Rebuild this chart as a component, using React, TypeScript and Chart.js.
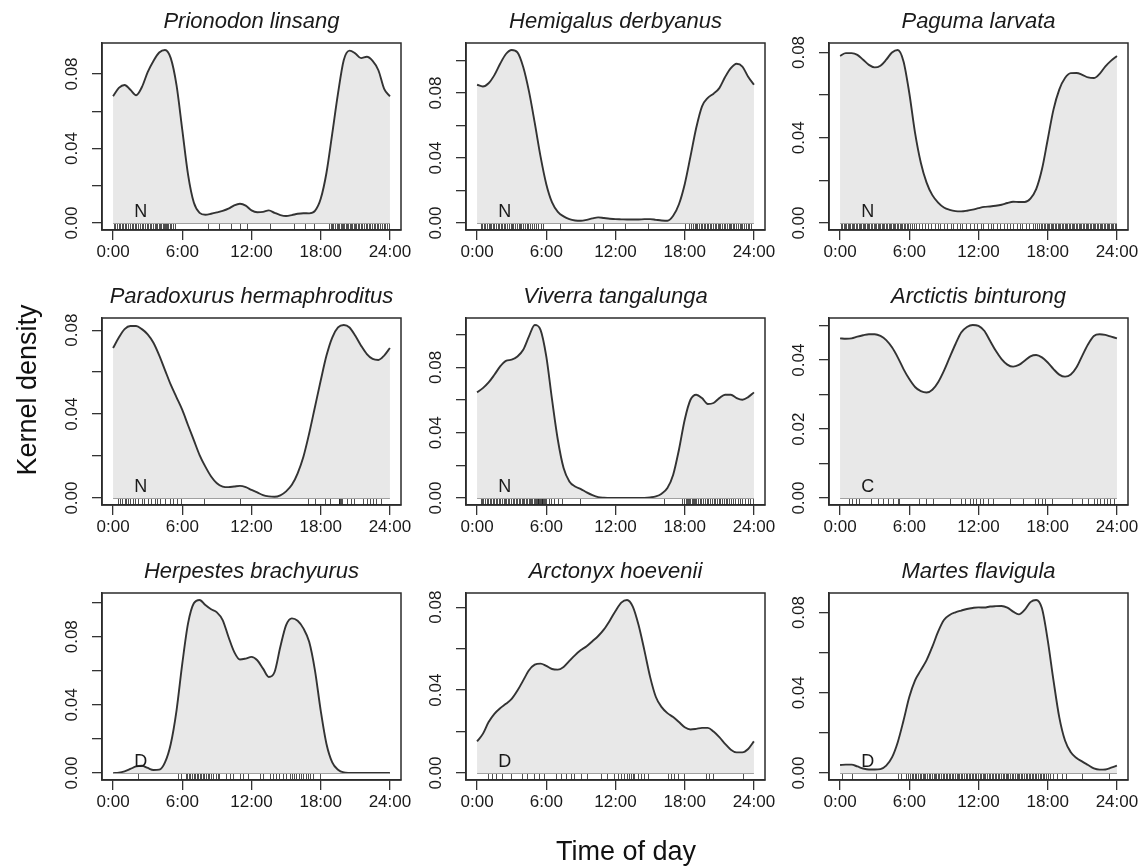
import React, { useEffect, useRef } from "react";
import { Chart, registerables } from "chart.js";

Chart.register(...registerables);

// ---------- data ----------
const HOURS = [
  0, 0.5, 1, 1.5, 2, 2.5, 3, 3.5, 4, 4.5, 5, 5.5, 6, 6.5, 7, 7.5, 8, 8.5, 9, 9.5,
  10, 10.5, 11, 11.5, 12, 12.5, 13, 13.5, 14, 14.5, 15, 15.5, 16, 16.5, 17, 17.5,
  18, 18.5, 19, 19.5, 20, 20.5, 21, 21.5, 22, 22.5, 23, 23.5, 24,
];

const X_TICK_HOURS = [0, 6, 12, 18, 24];

const TITLES = [
  "Prionodon linsang",
  "Hemigalus derbyanus",
  "Paguma larvata",
  "Paradoxurus hermaphroditus",
  "Viverra tangalunga",
  "Arctictis binturong",
  "Herpestes brachyurus",
  "Arctonyx hoevenii",
  "Martes flavigula",
];

const LETTERS = ["N", "N", "N", "N", "N", "C", "D", "D", "D"];
const LETTER_HOUR = 2.4;

const Y_STEPS = [0.02, 0.02, 0.02, 0.02, 0.02, 0.01, 0.02, 0.02, 0.02];
const Y_LABEL_STEPS = [0.04, 0.04, 0.04, 0.04, 0.04, 0.02, 0.04, 0.04, 0.04];

const PRIONODON = [
  0.068, 0.0725, 0.0741, 0.0715, 0.0686, 0.073, 0.081, 0.087, 0.0915, 0.0929,
  0.0885, 0.074, 0.05, 0.026, 0.011, 0.0055, 0.0045, 0.005, 0.0057, 0.0065,
  0.0077, 0.0095, 0.0104, 0.0094, 0.0068, 0.0058, 0.006, 0.0068, 0.0055, 0.0043,
  0.0038, 0.0043, 0.005, 0.0053, 0.0052, 0.0065, 0.013, 0.027, 0.048, 0.0696,
  0.0875, 0.0925, 0.091, 0.0885, 0.0892, 0.087, 0.082, 0.072, 0.068,
];
const HEMIGALUS = [
  0.0851, 0.084, 0.086, 0.091, 0.098, 0.104, 0.1065, 0.105, 0.096, 0.081,
  0.0616, 0.041, 0.0239, 0.0127, 0.0069, 0.0041, 0.0024, 0.0016, 0.0014, 0.002,
  0.0029, 0.0035, 0.0031, 0.0027, 0.0024, 0.0023, 0.0022, 0.0022, 0.0022, 0.0024,
  0.0024, 0.002, 0.0016, 0.0014, 0.0045, 0.0116, 0.0239, 0.041, 0.0586, 0.0718,
  0.077, 0.0796, 0.083, 0.0898, 0.0953, 0.098, 0.0963, 0.09, 0.0851,
];
const PAGUMA = [
  0.0784, 0.0797, 0.0797, 0.0789, 0.0766, 0.0742, 0.073, 0.0738, 0.0766, 0.08,
  0.0812, 0.0758, 0.061, 0.0423, 0.0283, 0.019, 0.0131, 0.0096, 0.0073, 0.0062,
  0.0056, 0.0055, 0.0058, 0.0063, 0.007, 0.0076, 0.0078, 0.0081, 0.0086, 0.0094,
  0.01, 0.0099, 0.0099, 0.0115, 0.0159, 0.0252, 0.0392, 0.0532, 0.0626, 0.068,
  0.0703, 0.0704, 0.0695, 0.0683, 0.068, 0.07, 0.0735, 0.0762, 0.0784,
];
const PARADOXURUS = [
  0.0715, 0.0765, 0.0805, 0.082, 0.082, 0.0805, 0.078, 0.074, 0.068, 0.061,
  0.054, 0.048, 0.042, 0.0347, 0.0276, 0.0205, 0.015, 0.0103, 0.0071, 0.0055,
  0.0052, 0.0055, 0.0058, 0.0052, 0.0039, 0.0027, 0.0014, 0.0008, 0.0006, 0.0013,
  0.0032, 0.0063, 0.0118, 0.0197, 0.0308, 0.0434, 0.056, 0.0679, 0.0765, 0.0813,
  0.0825, 0.0813, 0.0773, 0.0726, 0.0686, 0.0663, 0.0658, 0.0679, 0.0715,
];
const VIVERRA = [
  0.0647, 0.0673, 0.0708, 0.0755, 0.0806, 0.084, 0.0847, 0.0867, 0.0908, 0.099,
  0.106, 0.103, 0.0867, 0.0602, 0.0357, 0.0184, 0.0102, 0.0071, 0.0055, 0.0035,
  0.0018, 0.0006, 0.0002, 0, 0, 0, 0, 0, 0, 0.0001,
  0.0004, 0.001, 0.0027, 0.0061, 0.0143, 0.0296, 0.048, 0.0602, 0.0633, 0.0612,
  0.0576, 0.0582, 0.0612, 0.0633, 0.0633, 0.0612, 0.0602, 0.0618, 0.0647,
];
const ARCTICTIS = [
  0.0463, 0.0462, 0.0463, 0.0468, 0.0472, 0.0475, 0.0475, 0.047, 0.0458, 0.0437,
  0.0408, 0.0374, 0.0345, 0.0322, 0.031, 0.0306, 0.0314, 0.0336, 0.0369, 0.0408,
  0.0446, 0.048, 0.0496, 0.0502, 0.0499, 0.0485, 0.0456, 0.0427, 0.0403, 0.0387,
  0.0381, 0.0386, 0.0398, 0.0411, 0.0415, 0.0408, 0.0393, 0.0374, 0.0358, 0.0352,
  0.0358, 0.0379, 0.0413, 0.0446, 0.047, 0.0475, 0.0473, 0.0468, 0.0463,
];
const HERPESTES = [
  0, 0.0002, 0.001, 0.0024, 0.0039, 0.0043, 0.003, 0.0018, 0.002, 0.0063,
  0.0171, 0.0367, 0.0642, 0.0878, 0.0996, 0.1016, 0.0986, 0.0961, 0.0943, 0.0898,
  0.08, 0.0711, 0.0666, 0.0672, 0.0682, 0.0662, 0.0613, 0.0564, 0.0593, 0.0741,
  0.0868, 0.0908, 0.0894, 0.0849, 0.077, 0.0603, 0.0367, 0.0171, 0.0063, 0.002,
  0.0004, 0.0001, 0, 0, 0, 0, 0, 0, 0,
];
const ARCTONYX = [
  0.0153, 0.0189, 0.0246, 0.0286, 0.0313, 0.0334, 0.0358, 0.0398, 0.0447, 0.0496,
  0.0523, 0.0528, 0.0517, 0.0502, 0.0499, 0.0512, 0.0541, 0.0569, 0.0593, 0.0612,
  0.0636, 0.0661, 0.0693, 0.0735, 0.0782, 0.0822, 0.0835, 0.0803, 0.0714, 0.0593,
  0.0464, 0.0367, 0.0318, 0.0289, 0.027, 0.0246, 0.0221, 0.021, 0.0213, 0.0218,
  0.0218, 0.02, 0.0173, 0.0141, 0.0113, 0.01, 0.01, 0.0116, 0.0153,
];
const MARTES = [
  0.004, 0.0042, 0.0042, 0.0033, 0.0023, 0.0018, 0.0018, 0.002, 0.0037, 0.0078,
  0.0154, 0.0262, 0.0379, 0.0462, 0.0513, 0.0563, 0.063, 0.0705, 0.0763, 0.0788,
  0.0801, 0.081, 0.0818, 0.0823, 0.0826, 0.0825, 0.083, 0.0832, 0.0833, 0.0825,
  0.0805, 0.0791, 0.0813, 0.0852, 0.0863, 0.0821, 0.0663, 0.0462, 0.0279, 0.0162,
  0.0104, 0.0075, 0.0057, 0.004, 0.0023, 0.0017, 0.0018, 0.0027, 0.0037,
];

// rug: observation times (hours)
const RUG_PRIONODON = [
  0.1, 0.2, 0.35, 0.5, 0.6, 0.75, 0.85, 1.0, 1.1, 1.3, 1.45, 1.6, 1.7, 1.9, 2.0,
  2.2, 2.35, 2.5, 2.6, 2.8, 2.9, 3.05, 3.2, 3.3, 3.45, 3.6, 3.7, 3.8, 3.95, 4.05,
  4.15, 4.3, 4.4, 4.5, 4.6, 4.7, 4.8, 4.9, 5.05, 5.2, 5.4,
  8.2, 9.2, 10.2, 11.0, 11.6, 13.6, 15.7, 16.6, 17.4,
  18.7, 18.85, 19.0, 19.1, 19.25, 19.4, 19.5, 19.6, 19.75, 19.85, 19.95, 20.05,
  20.15, 20.3, 20.4, 20.5, 20.6, 20.7, 20.85, 20.95, 21.1, 21.2, 21.35, 21.5,
  21.6, 21.75, 21.9, 22.0, 22.15, 22.3, 22.45, 22.6, 22.7, 22.85, 23.0, 23.15,
  23.3, 23.45, 23.6, 23.75, 23.9,
];
const RUG_HEMIGALUS = [
  0.3, 0.45, 0.6, 0.7, 0.85, 1.0, 1.1, 1.25, 1.4, 1.5, 1.65, 1.8, 1.9, 2.05, 2.2,
  2.3, 2.45, 2.6, 2.75, 2.9, 3.0, 3.15, 3.3, 3.45, 3.6, 3.7, 3.85, 4.0, 4.15, 4.3,
  4.45, 4.6, 4.75, 4.9, 5.1, 5.3, 5.5, 5.7,
  7.2, 10.1, 10.95, 12.85, 14.8, 18.0,
  18.4, 18.55, 18.7, 18.85, 19.0, 19.1, 19.25, 19.4, 19.5, 19.65, 19.8, 19.9,
  20.05, 20.2, 20.3, 20.45, 20.6, 20.7, 20.85, 21.0, 21.1, 21.25, 21.4, 21.5,
  21.65, 21.8, 21.9, 22.05, 22.2, 22.3, 22.45, 22.6, 22.75, 22.9, 23.0, 23.15,
  23.3, 23.45, 23.6, 23.75,
];
const RUG_PAGUMA = [
  0.05, 0.15, 0.3, 0.4, 0.5, 0.65, 0.75, 0.85, 1.0, 1.1, 1.2, 1.35, 1.45, 1.6,
  1.7, 1.8, 1.95, 2.05, 2.2, 2.3, 2.4, 2.55, 2.65, 2.8, 2.9, 3.0, 3.15, 3.25, 3.4,
  3.5, 3.6, 3.75, 3.85, 4.0, 4.1, 4.2, 4.35, 4.45, 4.6, 4.7, 4.8, 4.95, 5.05, 5.2,
  5.3, 5.4, 5.55, 5.65, 5.8, 5.9, 6.05, 6.2, 6.4, 6.6, 6.8,
  7.1, 7.4, 7.6, 7.9, 8.2, 8.5, 8.7, 9.0, 9.3, 9.6, 9.8, 10.1, 10.4, 10.6, 10.9,
  11.3, 11.6, 11.9, 12.2, 12.4, 12.8, 13.1, 13.3, 13.6, 13.9, 14.2, 14.5, 14.7,
  15.0, 15.3, 15.6, 15.8, 16.1, 16.4, 16.7, 16.9,
  17.1, 17.25, 17.4, 17.5, 17.65, 17.8, 17.9, 18.05, 18.15, 18.3, 18.4, 18.5,
  18.65, 18.75, 18.9, 19.0, 19.1, 19.25, 19.35, 19.5, 19.6, 19.7, 19.85, 19.95,
  20.1, 20.2, 20.3, 20.45, 20.55, 20.7, 20.8, 20.9, 21.05, 21.15, 21.3, 21.4,
  21.5, 21.65, 21.75, 21.9, 22.0, 22.1, 22.25, 22.35, 22.5, 22.6, 22.7, 22.85,
  22.95, 23.1, 23.2, 23.3, 23.45, 23.55, 23.7, 23.8, 23.95,
];
const RUG_PARADOXURUS = [
  0.4, 0.6, 0.8, 1.0, 1.1, 1.3, 1.5, 1.7, 1.9, 2.2, 2.5, 2.7, 3.0, 3.3, 3.6, 3.8,
  4.1, 4.5, 4.9, 5.2, 5.5, 5.9, 7.9, 11.0, 16.9, 17.5, 18.4, 18.8, 19.55, 19.6,
  19.7, 19.8, 19.85, 20.3, 20.6, 20.9, 21.7, 22.0, 22.3, 22.5, 22.75, 23.2,
];
const RUG_VIVERRA = [
  0.3, 0.45, 0.55, 0.7, 0.85, 0.95, 1.1, 1.2, 1.35, 1.5, 1.6, 1.75, 1.9, 2.0,
  2.15, 2.3, 2.4, 2.55, 2.7, 2.8, 2.95, 3.1, 3.2, 3.35, 3.5, 3.6, 3.75, 3.9, 4.0,
  4.1, 4.25, 4.35, 4.5, 4.6, 4.7, 4.8, 4.9, 5.0, 5.1, 5.2, 5.25, 5.3, 5.4, 5.45,
  5.5, 5.6, 5.65, 5.7, 5.8, 5.9, 6.0, 6.2, 6.4, 6.7, 7.0, 7.4,
  8.9, 16.2,
  17.8, 17.95, 18.1, 18.2, 18.3, 18.4, 18.5, 18.6, 18.7, 18.8, 18.9, 19.0, 19.15,
  19.3, 19.45, 19.6, 19.75, 19.9, 20.05, 20.2, 20.35, 20.5, 20.65, 20.8, 20.95,
  21.1, 21.25, 21.4, 21.55, 21.7, 21.85, 22.0, 22.2, 22.4, 22.6, 22.8, 23.0,
  23.2, 23.45, 23.7, 23.9,
];
const RUG_ARCTICTIS = [
  0.78, 1.07, 1.36, 1.65, 2.67, 3.25, 3.69, 4.12, 4.56, 5.0, 5.14, 6.88, 7.46,
  8.04, 9.49, 10.5, 10.8, 11.23, 11.52, 11.81, 12.1, 12.39, 12.83, 13.26, 14.71,
  15.87, 16.89, 17.18, 17.47, 17.76, 18.34, 20.08, 20.95, 21.53, 21.97, 22.26,
  22.55, 22.84, 23.13, 23.42, 23.71,
];
const RUG_HERPESTES = [
  2.2, 5.6, 5.9, 6.3, 6.45, 6.6, 6.7, 6.85, 7.0, 7.1, 7.25, 7.4, 7.5, 7.65, 7.8,
  7.9, 8.05, 8.2, 8.35, 8.5, 8.7, 8.9, 9.1, 9.2, 9.8, 10.1, 10.4, 11.0, 11.3,
  11.7, 12.7, 13.0, 13.6, 13.9, 14.1, 14.4, 14.7, 15.0, 15.3, 15.5, 15.7, 15.9,
  16.1, 16.3, 16.5, 16.7, 16.9, 17.1, 17.3, 17.9,
];
const RUG_ARCTONYX = [
  0.93, 1.3, 1.6, 2.17, 2.9, 3.9, 4.35, 4.93, 5.36, 5.8, 6.81, 7.25, 7.68, 8.12,
  8.4, 8.99, 9.57, 10.72, 11.3, 11.88, 12.23, 12.46, 12.75, 13.04, 13.19, 13.33,
  13.48, 13.62, 13.91, 14.2, 14.49, 14.78, 16.52, 16.81, 17.1, 17.39, 17.97,
  19.86, 20.14, 20.43, 23.04,
];
const RUG_MARTES = [
  0.2, 1.07, 3.1, 4.99, 5.28,
  5.7, 5.9, 6.05, 6.2, 6.35, 6.5, 6.6, 6.75, 6.9, 7.0, 7.15, 7.3, 7.4, 7.55, 7.7,
  7.8, 7.95, 8.1, 8.2, 8.35, 8.5, 8.6, 8.75, 8.9, 9.0, 9.15, 9.3, 9.4, 9.55, 9.7,
  9.8, 9.95, 10.1, 10.2, 10.35, 10.5, 10.6, 10.75, 10.9, 11.0, 11.15, 11.3, 11.4,
  11.55, 11.7, 11.8, 11.95, 12.1, 12.2, 12.35, 12.5, 12.6, 12.75, 12.9, 13.0,
  13.15, 13.3, 13.4, 13.55, 13.7, 13.8, 13.95, 14.1, 14.2, 14.35, 14.5, 14.6,
  14.75, 14.9, 15.0, 15.15, 15.3, 15.4, 15.55, 15.7, 15.8, 15.95, 16.1, 16.2,
  16.35, 16.5, 16.6, 16.75, 16.9, 17.0, 17.15, 17.3, 17.4, 17.55, 17.7, 17.85,
  18.0, 18.2, 18.5, 18.8, 19.2, 19.6,
  20.95, 23.27,
];

const DENSITIES = [PRIONODON, HEMIGALUS, PAGUMA, PARADOXURUS, VIVERRA, ARCTICTIS, HERPESTES, ARCTONYX, MARTES];
const RUGS = [RUG_PRIONODON, RUG_HEMIGALUS, RUG_PAGUMA, RUG_PARADOXURUS, RUG_VIVERRA, RUG_ARCTICTIS, RUG_HERPESTES, RUG_ARCTONYX, RUG_MARTES];

// ---------- layout & style ----------
const FONT = '"Liberation Sans", Arial, Helvetica, sans-serif';
const BOX_LEFT = [102, 466, 829];
const BOX_TOP = [43, 318, 593];
const BOX_W = 299;
const BOX_H = 187;
const PAD_L = 75;
const PAD_T = 43;
const PAD_R = 16;
const PAD_B = 40;
const CW = PAD_L + BOX_W + PAD_R;
const CH = PAD_T + BOX_H + PAD_B;

function decorPlugin(i: number) {
  return {
    id: "decor" + i,
    afterDraw(chart: any) {
      const { ctx, chartArea: a } = chart;
      const x = chart.scales.x;
      const y = chart.scales.y;
      const y0 = y.getPixelForValue(0);
      ctx.save();
      // rug
      ctx.strokeStyle = "rgba(20,20,20,0.75)";
      ctx.lineWidth = 1;
      for (const t of RUGS[i]) {
        const px = Math.round(x.getPixelForValue(t)) + 0.5;
        ctx.beginPath();
        ctx.moveTo(px, a.bottom);
        ctx.lineTo(px, y0);
        ctx.stroke();
      }
      // zero baseline of the density polygon
      ctx.strokeStyle = "#a0a0a0";
      ctx.beginPath();
      ctx.moveTo(x.getPixelForValue(0), Math.round(y0) + 0.5);
      ctx.lineTo(x.getPixelForValue(24), Math.round(y0) + 0.5);
      ctx.stroke();
      // activity letter
      ctx.fillStyle = "#1a1a1a";
      ctx.font = `18px ${FONT}`;
      ctx.textAlign = "center";
      ctx.textBaseline = "alphabetic";
      ctx.fillText(LETTERS[i], x.getPixelForValue(LETTER_HOUR), y0 - 6);
      // box
      ctx.strokeStyle = "#2b2b2b";
      ctx.lineWidth = 1.5;
      ctx.strokeRect(a.left, a.top, a.right - a.left, a.bottom - a.top);
      // title
      ctx.font = `italic 22px ${FONT}`;
      ctx.fillText(TITLES[i], (a.left + a.right) / 2, a.top - 15);
      // rotated y tick labels
      ctx.font = `17px ${FONT}`;
      const ls = Y_LABEL_STEPS[i];
      for (const tk of y.ticks) {
        const v = tk.value;
        const r = v / ls;
        if (Math.abs(r - Math.round(r)) > 1e-6) continue;
        const py = y.getPixelForValue(v);
        ctx.save();
        ctx.translate(a.left - 25, py);
        ctx.rotate(-Math.PI / 2);
        ctx.fillText(Math.abs(v).toFixed(2), 0, 0);
        ctx.restore();
      }
      ctx.restore();
    },
  };
}

function Panel({ i }: { i: number }) {
  const ref = useRef<HTMLCanvasElement | null>(null);
  useEffect(() => {
    if (!ref.current) return;
    const vals = DENSITIES[i];
    const m = Math.max(...vals);
    const chart = new Chart(ref.current, {
      type: "line",
      data: {
        datasets: [
          {
            data: HOURS.map((h, k) => ({ x: h, y: vals[k] })),
            borderColor: "#333333",
            borderWidth: 1.9,
            backgroundColor: "#e8e8e8",
            fill: "origin",
            pointRadius: 0,
            cubicInterpolationMode: "monotone",
          },
        ],
      },
      options: {
        responsive: false,
        animation: false,
        events: [],
        layout: { padding: { left: 0, top: PAD_T, right: PAD_R, bottom: 0 } },
        plugins: { legend: { display: false }, tooltip: { enabled: false }, title: { display: false } },
        scales: {
          x: {
            type: "linear",
            min: -0.96,
            max: 24.96,
            afterBuildTicks: (s: any) => {
              s.ticks = X_TICK_HOURS.map((v) => ({ value: v }));
            },
            afterFit: (s: any) => {
              s.height = PAD_B;
            },
            ticks: {
              callback: (v: any) => `${Math.round(v)}:00`,
              font: { family: FONT, size: 17 },
              color: "#1a1a1a",
              padding: 2,
              maxRotation: 0,
              autoSkip: false,
            },
            grid: { display: true, drawOnChartArea: false, drawTicks: true, tickLength: 10, color: "#333", lineWidth: 1.3 },
            border: { display: true, color: "#2b2b2b", width: 1.5 },
          },
          y: {
            type: "linear",
            min: -0.04 * m,
            max: 1.04 * m,
            afterFit: (s: any) => {
              s.width = PAD_L;
            },
            ticks: { stepSize: Y_STEPS[i], includeBounds: false, display: false },
            grid: { display: true, drawOnChartArea: false, drawTicks: true, tickLength: 10, color: "#333", lineWidth: 1.3 },
            border: { display: true, color: "#2b2b2b", width: 1.5 },
          },
        },
      },
      plugins: [decorPlugin(i)],
    } as any);
    return () => chart.destroy();
  }, [i]);
  const col = i % 3;
  const row = Math.floor(i / 3);
  return (
    <canvas
      ref={ref}
      width={CW}
      height={CH}
      style={{
        position: "absolute",
        left: BOX_LEFT[col] - PAD_L,
        top: BOX_TOP[row] - PAD_T,
        width: CW,
        height: CH,
      }}
    />
  );
}

export default function App() {
  useEffect(() => {
    document.body.style.margin = "0";
    document.body.style.background = "#fff";
  }, []);
  return (
    <div
      style={{
        position: "absolute",
        left: 0,
        top: 0,
        width: 1145,
        height: 868,
        background: "#fff",
        overflow: "hidden",
        fontFamily: FONT,
      }}
    >
      {TITLES.map((_, i) => (
        <Panel key={i} i={i} />
      ))}
      <div
        style={{
          position: "absolute",
          left: 27 - 150,
          top: 390 - 16,
          width: 300,
          height: 32,
          lineHeight: "32px",
          fontSize: 27,
          textAlign: "center",
          color: "#111",
          transform: "rotate(-90deg)",
        }}
      >
        Kernel density
      </div>
      <div
        style={{
          position: "absolute",
          left: 626 - 150,
          top: 838,
          width: 300,
          height: 27,
          lineHeight: "27px",
          fontSize: 27,
          textAlign: "center",
          color: "#111",
        }}
      >
        Time of day
      </div>
    </div>
  );
}
